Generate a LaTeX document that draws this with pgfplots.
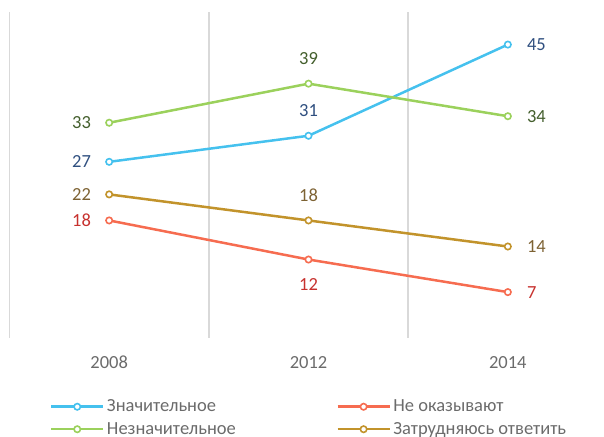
\documentclass[border=0pt]{standalone}
\usepackage{fontspec}
\setmainfont{Carlito}
\usepackage{pgfplots}
\usepackage{pgfplotstable}
\pgfplotsset{compat=1.18}
\definecolor{cBlue}{HTML}{45C1EE}
\definecolor{cGreen}{HTML}{9BD15C}
\definecolor{cRed}{HTML}{F66C50}
\definecolor{cGold}{HTML}{C2932B}
\definecolor{tBlue}{HTML}{2F4F7F}
\definecolor{tGreen}{HTML}{435E2C}
\definecolor{tRed}{HTML}{C7312E}
\definecolor{tGold}{HTML}{7D6233}
\definecolor{gridc}{HTML}{D9D9D9}
\definecolor{textc}{HTML}{6B6B6B}

\pgfplotstableread{
x y
0 27
1 31
2 45
}\tblA
\pgfplotstableread{
x y
0 33
1 39
2 34
}\tblB
\pgfplotstableread{
x y
0 18
1 12
2 7
}\tblC
\pgfplotstableread{
x y
0 22
1 18
2 14
}\tblD

\newcommand\chartfont{\fontsize{18.5}{22}\selectfont}
\pgfplotsset{
  lbl/.style={forget plot, draw=none, mark=none,
    nodes near coords,
    point meta=explicit symbolic,
    nodes near coords style={font=\chartfont, inner sep=0pt, text=#1},
    coordinate style/.condition={\coordindex==0}{anchor=east, xshift=-18pt},
    coordinate style/.condition={\coordindex==2}{anchor=west, xshift=19pt},
  },
  up/.style={coordinate style/.condition={\coordindex==1}{anchor=south, yshift=19pt}},
  down/.style={coordinate style/.condition={\coordindex==1}{anchor=north, yshift=-19pt}},
  ln/.style={#1, line width=2.5pt, mark=*, mark size=3.2pt,
     mark options={fill=white, draw=#1, line width=1.6pt}},
}

\begin{document}
\begin{tikzpicture}[x=1pt,y=1pt]
\path[use as bounding box] (0,0) rectangle (604,436);
\begin{axis}[
  at={(9.5pt,98.3pt)}, anchor=south west,
  scale only axis, width=598pt, height=325.7pt,
  xmin=-0.5, xmax=2.5, ymin=0, ymax=50,
  clip=false,
  axis line style={draw=none},
  tick style={draw=none},
  ytick=\empty,
  xtick={0,1,2}, xticklabels={2008,2012,2014},
  minor xtick={-0.5,0.5,1.5,2.5},
  minor x grid style={gridc, line width=1.5pt},
  xminorgrids=true,
  /pgf/number format/assume math mode=true,
  xticklabel style={font=\chartfont, text=textc, yshift=-15pt},
  legend columns=2,
  legend style={at={(axis description cs:0.0677,-0.2465)}, anchor=west,
     draw=none, fill=none, inner sep=0pt, outer sep=0pt,
     font=\chartfont, text=textc,
     nodes={inner sep=2.5pt},
     row sep=4pt,
     /tikz/every even column/.append style={column sep=98pt}},
  legend cell align=left,
  legend image code/.code={
     \draw[mark repeat=2,mark phase=2,#1] plot coordinates {(0pt,0pt)(26pt,0pt)(52pt,0pt)};},
]
\addplot[ln=cBlue] table[x=x,y=y]{\tblA};
\addlegendentry{Значительное}
\addplot[ln=cRed] table[x=x,y=y]{\tblC};
\addlegendentry{Не оказывают}
\addplot[ln=cGreen] table[x=x,y=y]{\tblB};
\addlegendentry{Незначительное}
\addplot[ln=cGold] table[x=x,y=y]{\tblD};
\addlegendentry{Затрудняюсь ответить}

\addplot[lbl=tBlue, up] table[x=x,y=y,meta=y]{\tblA};
\addplot[lbl=tRed, down] table[x=x,y=y,meta=y]{\tblC};
\addplot[lbl=tGreen, up] table[x=x,y=y,meta=y]{\tblB};
\addplot[lbl=tGold, up] table[x=x,y=y,meta=y]{\tblD};
\end{axis}
\end{tikzpicture}
\end{document}
